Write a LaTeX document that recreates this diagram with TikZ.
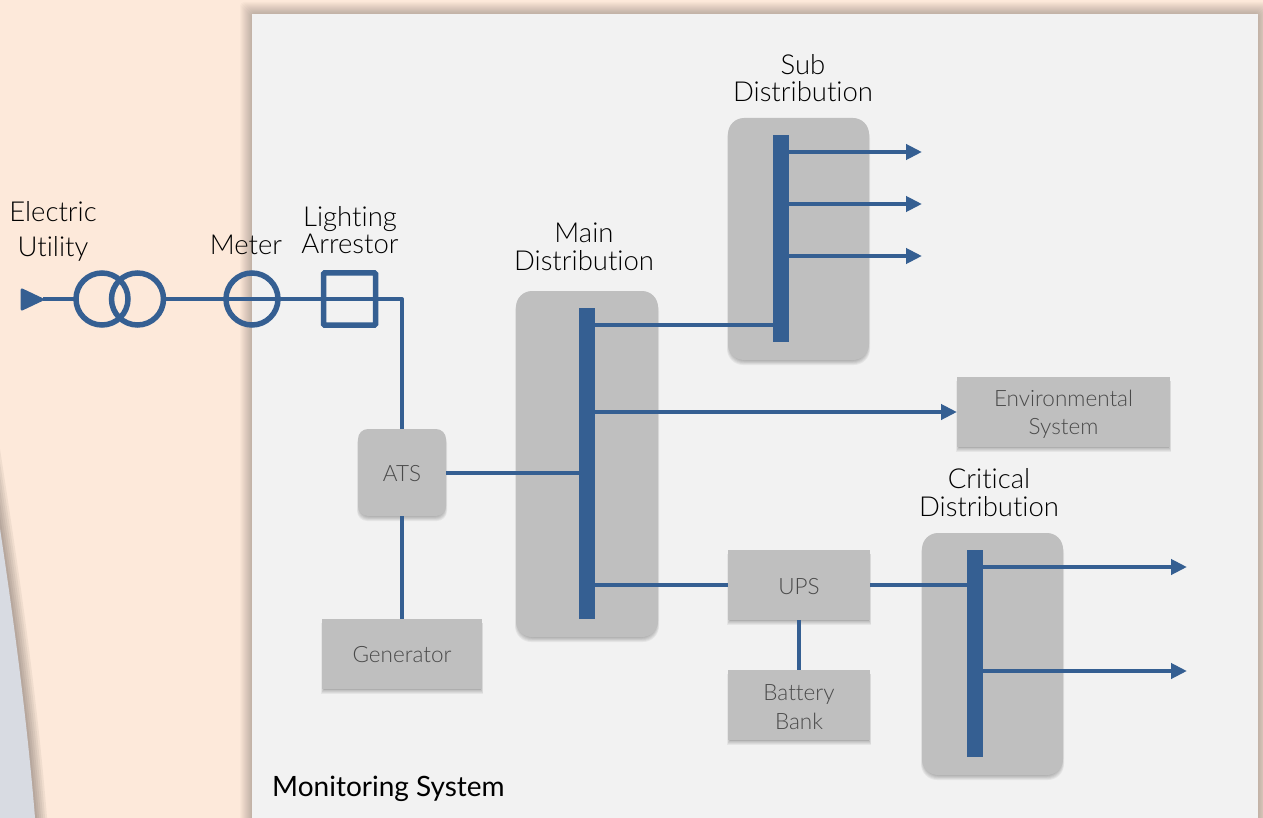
\documentclass[tikz,border=0pt]{standalone}
\usepackage{fontspec}
\setmainfont{Lato}[UprightFont=* Light,BoldFont=* Regular,Ligatures={NoCommon}]
\usetikzlibrary{arrows.meta,calc}
\definecolor{peach}{HTML}{FDE9DA}
\definecolor{panelc}{HTML}{F2F2F2}
\definecolor{boxc}{HTML}{BFBFBF}
\definecolor{wirec}{HTML}{355F92}
\definecolor{wedgec}{HTML}{D8DBE2}
\definecolor{txtc}{HTML}{4A4A4A}
\newcommand{\softbox}[5]{% x1 y1 x2 y2 radius: soft drop shadow
  \foreach \i in {0,1,2,3,4,5}{
    \fill[black,opacity=.05,rounded corners=#5pt]
      ({#1+1.5-\i*.5},{#2+4}) rectangle ({#3-1.5+\i*.5},{#4+.5+\i*.9});
  }}
\tikzset{
  x=1pt,y=-1pt,
  wire/.style={draw=wirec,line width=4pt},
  arr/.style={wire,-{Triangle[length=16pt,width=15pt]}},
  sym/.style={draw=wirec,line width=5.5pt,inner sep=0pt,outer sep=0pt,minimum size=52pt},
  bar/.style={fill=wirec,draw=none,inner sep=0pt,outer sep=0pt},
  gbox/.style={fill=boxc,draw=none,inner sep=0pt,outer sep=0pt,text=txtc,font=\fontsize{22.5}{28.5}\selectfont,align=center},
  lbl/.style={text=black,inner sep=0pt,align=center,font=\fontsize{27.5}{27.5}\selectfont},
}
\begin{document}
\begin{tikzpicture}
\useasboundingbox (0,0) rectangle (1263,818);
\fill[peach] (0,0) rectangle (1263,818);
% wedge shadow and wedge
\begin{scope}
\clip (0,400) rectangle (60,818);
\foreach \w in {24,20,16,12,8,4}{
  \draw[line width=\w pt,black,opacity=.05] (-12,450) .. controls (5,560) and (25,690) .. (36,830);
}
\fill[wedgec] (-12,450) .. controls (5,560) and (25,690) .. (36,830) -- (-12,830) -- cycle;
\end{scope}
% panel shadow and panel
\foreach \i in {1,...,12}{
  \fill[black,opacity=.018,rounded corners=4pt] ({252-\i},{14-\i}) rectangle ({1258+\i},830);
}
\fill[panelc] (252,14) rectangle (1258,830);

% shadows
\softbox{516}{291}{658}{637}{16}
\softbox{728}{118}{869}{360}{16}
\softbox{922}{533}{1063}{775}{16}
\softbox{728}{550}{870}{620}{0}
\softbox{728}{670}{870}{740}{0}
\softbox{957}{377}{1170}{447}{0}
\softbox{358}{429}{446}{516}{10}
\softbox{322}{619}{482}{689}{0}

% containers
\node[gbox,rounded corners=16pt,minimum width=142pt,minimum height=346pt] (main) at (587,464) {};
\node[gbox,rounded corners=16pt,minimum width=141pt,minimum height=242pt] (sub) at (798.5,239) {};
\node[gbox,rounded corners=16pt,minimum width=141pt,minimum height=242pt] (crit) at (992.5,654) {};
% boxes
\node[gbox,minimum width=142pt,minimum height=70pt] (ups) at (799,585) {};
\node[gbox,minimum width=142pt,minimum height=70pt] (batt) at (799,705) {};
\node[gbox,minimum width=213pt,minimum height=70pt] (env) at (1063.5,412) {};
\node[gbox,rounded corners=10pt,minimum width=88pt,minimum height=87pt] (ats) at (402,472.5) {};
\node[gbox,minimum width=160pt,minimum height=70pt] (gen) at (402,654) {};
% box texts
\node[gbox,fill=none] (tups) at (799,586.5) {UPS};
\node[gbox,fill=none] (tbatt) at (799,707) {Battery\\Bank};
\node[gbox,fill=none] (tenv) at (1063.5,414.5) {Environmental\\System};
\node[gbox,fill=none] (tats) at (402,473.5) {ATS};
\node[gbox,fill=none] (tgen) at (402,655) {Generator};
% bus bars
\node[bar,minimum width=16pt,minimum height=311pt] (mainbar) at (587,463.5) {};
\node[bar,minimum width=16pt,minimum height=207pt] (subbar) at (781,238.5) {};
\node[bar,minimum width=16pt,minimum height=207pt] (critbar) at (975,653.5) {};

% free ends
\coordinate (s1) at (922,152);
\coordinate (s2) at (922,204);
\coordinate (s3) at (922,256);
\coordinate (c1) at (1187,567);
\coordinate (c2) at (1187,671);
\coordinate (corner) at (402,299);

% service entrance symbols
\node[draw=none,inner sep=0pt,minimum size=1pt] (src) at (43,299) {};
\node[sym,circle] (t1) at (102,299) {};
\node[sym,circle] (t2) at (137.5,299) {};
\node[sym,circle] (meter) at (252,299) {};
\node[sym,rectangle,rounded corners=1pt] (arrestor) at (349.5,299) {};
\fill[wirec,draw=wirec,line width=3pt,line join=round] (22,290) -- (42,299.5) -- (22,309) -- cycle;

% connectors
\draw[wire] (src.center) -- (t1.west);
\draw[wire] (t2.east) -- (meter.west);
\draw[wire,line join=round] (meter.west) -- (corner) -- (ats.north);
\draw[wire] (ats.south) -- (gen.north);
\draw[wire] (ats.east) -- (mainbar.west |- ats.east);
\draw[wire] (mainbar.east |- 0,325) -- (subbar.west |- 0,325);
\draw[arr] (mainbar.east |- env.west) -- (env.west);
\draw[wire] (mainbar.east |- ups.west) -- (ups.west);
\draw[wire] (ups.east) -- (critbar.west |- ups.east);
\draw[wire] (ups.south) -- (batt.north);
\draw[arr] (subbar.east |- s1) -- (s1);
\draw[arr] (subbar.east |- s2) -- (s2);
\draw[arr] (subbar.east |- s3) -- (s3);
\draw[arr] (critbar.east |- c1) -- (c1);
\draw[arr] (critbar.east |- c2) -- (c2);

% labels
\node[lbl,font=\fontsize{27.5}{35}\selectfont] (lutil) at (53,231) {Electric\\Utility};
\node[lbl] (lmeter) at (246,245) {Meter};
\node[lbl] (larr) at (350,230) {Lighting\\Arrestor};
\node[lbl] (lmain) at (584,247) {Main\\Distribution};
\node[lbl] (lsub) at (803,78) {Sub\\Distribution};
\node[lbl] (lcrit) at (989,492.5) {Critical\\Distribution};
\node[lbl,anchor=west,font=\fontsize{28}{30}\bfseries] (lmon) at (272,789) {Monitoring System};
\end{tikzpicture}
\end{document}
